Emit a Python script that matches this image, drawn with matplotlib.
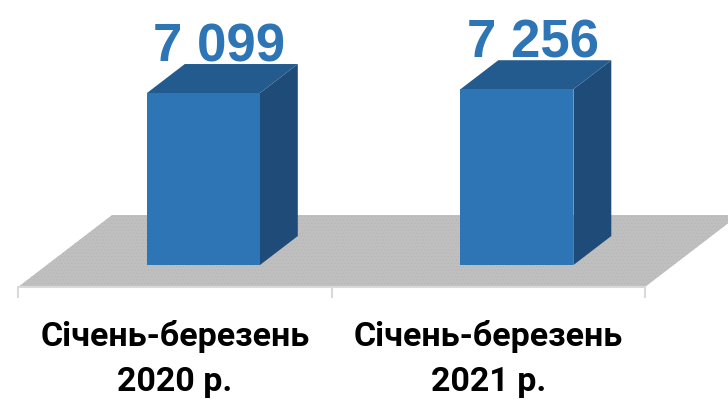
import matplotlib.pyplot as plt
from matplotlib.patches import Polygon

# дані
categories = ['Січень-березень\n2020 р.', 'Січень-березень\n2021 р.']
values = [7099, 7256]
value_labels = ['7 099', '7 256']

FRONT = '#2E75B6'
SIDE = '#1F4B79'
TOP = '#245B8F'
FLOOR = '#BFBFBF'
EDGE = '#D9D9D9'

fig = plt.figure(figsize=(7.28, 3.99), dpi=100)
ax = fig.add_axes([0, 0, 1, 1])
ax.set_axis_off()

# площина підлоги: x у категоріях, y у значеннях
n = len(categories)
left_px, right_px, base_px = 18, 645, 287
unit_px = (right_px - left_px) / n
vpp = 7099 / 172.0          # значення на піксель
ax.set_xlim(-left_px / unit_px, (728 - left_px) / unit_px)
ax.set_ylim(-(399 - base_px) * vpp, base_px * vpp)

# глибина (перспектива)
fdx = 94 / unit_px
fdy = 72 * vpp
z_front, z_back = 0.305, 0.708
bar_w = 113 / unit_px


def proj(x, v, z):
    return (x + z * fdx, v + z * fdy)


floor = Polygon([proj(0, 0, 0), proj(n, 0, 0), proj(n, 0, 1), proj(0, 0, 1)],
                closed=True, facecolor=FLOOR, edgecolor='none',
                hatch='.....', clip_on=False, zorder=1)
floor.set_hatch_linewidth(0.3)
floor._hatch_color = (0.70, 0.70, 0.70, 1)
ax.add_patch(floor)

# передній край і поділки
ax.plot([0, n], [0, 0], color=EDGE, lw=1.5, zorder=2, solid_capstyle='butt')
for i in range(n + 1):
    ax.plot([i, i], [0, -10 * vpp], color=EDGE, lw=1.5, zorder=2)

for i, (v, lab) in enumerate(zip(values, value_labels)):
    xl = i + 0.5 - bar_w / 2
    xr = i + 0.5 + bar_w / 2
    side = [proj(xr, 0, z_front), proj(xr, 0, z_back),
            proj(xr, v, z_back), proj(xr, v, z_front)]
    top = [proj(xl, v, z_front), proj(xr, v, z_front),
           proj(xr, v, z_back), proj(xl, v, z_back)]
    front = [proj(xl, 0, z_front), proj(xr, 0, z_front),
             proj(xr, v, z_front), proj(xl, v, z_front)]
    ax.add_patch(Polygon(side, closed=True, facecolor=SIDE, edgecolor='none', zorder=3))
    ax.add_patch(Polygon(top, closed=True, facecolor=TOP, edgecolor='none', zorder=3))
    ax.add_patch(Polygon(front, closed=True, facecolor=FRONT, edgecolor='none', zorder=4))

    tx = proj(i + 0.5, v, (z_front + z_back) / 2)[0] - 3 / unit_px
    ty = proj(i + 0.5, v, z_back)[1] + 3 * vpp
    ax.text(tx, ty, lab, ha='center', va='baseline', color=FRONT,
            fontsize=38, fontweight='bold', family='Liberation Sans', zorder=5)

    ax.text(i + 0.5, -33 * vpp, categories[i], ha='center', va='top',
            fontsize=24.5, fontweight='bold', family='Roboto', color='black',
            linespacing=1.5, zorder=5)

fig.savefig('out.png', dpi=100)
